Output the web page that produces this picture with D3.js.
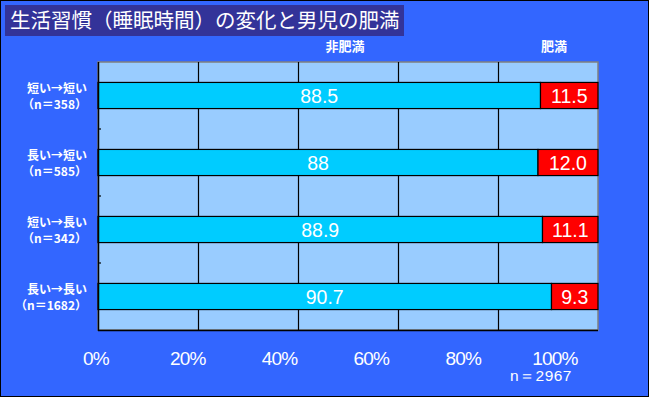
<!DOCTYPE html>
<html><head><meta charset="utf-8">
<script src="https://cdn.jsdelivr.net/npm/d3@7"></script>
<style>
body{margin:0;padding:0;background:#fff;}
svg{display:block;}
</style></head>
<body>
<script>
const title = "生活習慣（睡眠時間）の変化と男児の肥満";
const categories = ["短い→短い", "長い→短い", "短い→長い", "長い→長い"];
const categoryN = ["（n＝358）", "（n＝585）", "（n＝342）", "（n＝1682）"];
const nonObese = [88.5, 88, 88.9, 90.7];
const obese = [11.5, 12.0, 11.1, 9.3];
const nonObeseLabels = ["88.5", "88", "88.9", "90.7"];
const obeseLabels = ["11.5", "12.0", "11.1", "9.3"];
const seriesNames = ["非肥満", "肥満"];
const tickValues = [0, 20, 40, 60, 80, 100];
const totalN = "n＝2967";

const JP = '"Noto Sans CJK JP", sans-serif';
const LAT = '"Liberation Sans", Arial, sans-serif';

const W = 649, H = 397;
const svg = d3.select("body").append("svg").attr("width", W).attr("height", H);

svg.append("rect").attr("x", 0.5).attr("y", 0.5).attr("width", W - 1).attr("height", H - 1)
  .attr("fill", "#3366FF").attr("stroke", "#000").attr("stroke-width", 1);

// title
svg.append("rect").attr("x", 5).attr("y", 5).attr("width", 399).attr("height", 31).attr("fill", "#333399");
svg.append("text").attr("x", 10).attr("y", 28).attr("fill", "#fff").style("font-size", "20.5px")
  .style("font-family", JP).text(title);

const L = 98, R = 598, T = 62, B = 330;
const x = d3.scaleLinear().domain([0, 100]).range([L, R]);
const y = d3.scaleBand().domain(categories).range([T, B]).paddingInner(0.61).paddingOuter(0.305);
const rowY = d3.scaleBand().domain(categories).range([T, B]).padding(0);

// plot background
svg.append("rect").attr("x", L).attr("y", T).attr("width", R - L).attr("height", B - T)
  .attr("fill", "#99CCFF").attr("stroke", "#808080").attr("stroke-width", 1.5);

// gridlines
svg.append("g").selectAll("line").data(tickValues.filter(d => d > 0 && d < 100)).join("line")
  .attr("x1", d => Math.round(x(d)) + 0.5).attr("x2", d => Math.round(x(d)) + 0.5)
  .attr("y1", T).attr("y2", B).attr("stroke", "#000").attr("stroke-width", 1.2);

// bars
const g = svg.append("g");
categories.forEach((c, i) => {
  const y0 = y(c), h = y.bandwidth();
  g.append("rect").attr("x", x(0)).attr("y", y0).attr("width", x(nonObese[i]) - x(0)).attr("height", h)
    .attr("fill", "#00CCFF").attr("stroke", "#000").attr("stroke-width", 1.2);
  g.append("rect").attr("x", x(nonObese[i])).attr("y", y0).attr("width", x(100) - x(nonObese[i])).attr("height", h)
    .attr("fill", "#FF0000").attr("stroke", "#000").attr("stroke-width", 1.2);
  g.append("text").attr("x", (x(0) + x(nonObese[i])) / 2).attr("y", y0 + h / 2 + 7)
    .attr("text-anchor", "middle").attr("fill", "#fff").style("font-size", "19.5px")
    .style("font-family", LAT).text(nonObeseLabels[i]);
  g.append("text").attr("x", (x(nonObese[i]) + x(100)) / 2).attr("y", y0 + h / 2 + 7)
    .attr("text-anchor", "middle").attr("fill", "#fff").style("font-size", "19.5px")
    .style("font-family", LAT).text(obeseLabels[i]);
});

// axes
svg.append("line").attr("x1", L + 0.5).attr("x2", L + 0.5).attr("y1", T).attr("y2", B + 1)
  .attr("stroke", "#000").attr("stroke-width", 1.5);
svg.append("line").attr("x1", L).attr("x2", R).attr("y1", B + 0.5).attr("y2", B + 0.5)
  .attr("stroke", "#000").attr("stroke-width", 1.5);
svg.append("g").selectAll("line").data(categories.slice(1)).join("line")
  .attr("x1", L).attr("x2", L + 3).attr("y1", d => rowY(d)).attr("y2", d => rowY(d))
  .attr("stroke", "#000").attr("stroke-width", 1.2);

// category labels
categories.forEach((c, i) => {
  const cy = y(c) + y.bandwidth() / 2;
  svg.append("text").attr("x", 87).attr("y", cy - 3).attr("text-anchor", "end").attr("fill", "#fff")
    .style("font-size", "12px").style("font-weight", "bold").style("font-family", JP).text(c);
  svg.append("text").attr("x", 87).attr("y", cy + 13).attr("text-anchor", "end").attr("fill", "#fff")
    .style("font-size", "12px").style("font-weight", "bold").style("font-family", JP).text(categoryN[i]);
});

// series labels
svg.append("text").attr("x", 345).attr("y", 51).attr("text-anchor", "middle").attr("fill", "#fff")
  .style("font-size", "13px").style("font-weight", "bold").style("font-family", JP).text(seriesNames[0]);
svg.append("text").attr("x", 554).attr("y", 51).attr("text-anchor", "middle").attr("fill", "#fff")
  .style("font-size", "13px").style("font-weight", "bold").style("font-family", JP).text(seriesNames[1]);

// x tick labels (positioned via a label scale)
const xl = d3.scaleLinear().domain([0, 100]).range([96, 555]);
svg.append("g").selectAll("text").data(tickValues).join("text")
  .attr("x", d => xl(d)).attr("y", 365).attr("text-anchor", "middle").attr("fill", "#fff")
  .style("font-size", "19px").style("font-family", LAT).style("letter-spacing", "-0.8px")
  .text(d => d + "%");

svg.append("text").attr("x", 572).attr("y", 381).attr("text-anchor", "end").attr("fill", "#fff")
  .style("font-size", "15.5px").style("font-family", LAT).style("letter-spacing", "0.5px").text(totalN);
</script>
</body></html>
